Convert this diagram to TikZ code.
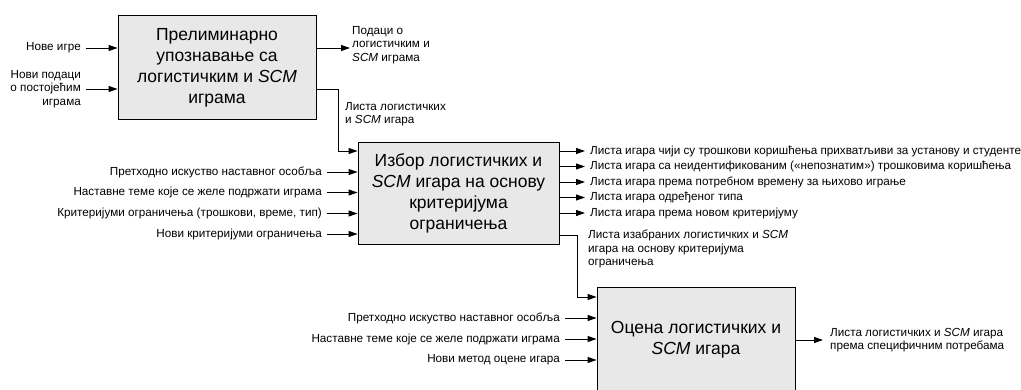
\documentclass[tikz,border=0pt]{standalone}
\usepackage{fontspec}
\setmainfont{Liberation Sans}
\usetikzlibrary{arrows.meta}
\newcommand{\scm}{\textit{SCM}}

\tikzset{
	procbox/.style={draw, fill=black!9, line width=0.9pt, align=center, inner sep=0pt,
		font=\fontsize{17.5}{21}\selectfont},
	lbl/.style={inner sep=0pt, font=\fontsize{11.7}{13.5}\selectfont},
	flow/.style={line width=0.9pt, -{Triangle[length=9pt,width=6pt]}},
}

\begin{document}
\begin{tikzpicture}[x=1pt, y=-1pt]
	\useasboundingbox (0,0) rectangle (1021,390);

	\node[procbox, minimum width=198pt, minimum height=104pt] (prelim) at (217,67.5)
		{Прелиминарно\\упознавање са\\логистичким и \scm\\играма};
	\node[procbox, minimum width=201pt, minimum height=102pt] (izbor) at (458.5,193)
		{Избор логистичких и\\\scm{} игара на основу\\критеријума\\ограничења};
	\node[procbox, minimum width=198pt, minimum height=106pt] (ocena) at (696,340)
		{Оцена логистичких и\\\scm{} игара};

	% prelim
	\node[lbl, anchor=east] (nove) at (81,48) {Нове игре};
	\node[lbl, anchor=east, align=right] (novip) at (81,89) {Нови подаци\\о постојећим\\играма};
	\node[lbl, anchor=north west, align=left] (podaci) at (352,26) {Подаци о\\логистичким и\\\scm{} играма};
	\node[lbl, anchor=west, align=left] (lista) at (345,114) {Листа логистичких\\и \scm{} игара};
	\coordinate (podacio) at (350,48);

	\draw[flow] ([xshift=5pt]nove.east) -- (nove.east -| prelim.west);
	\draw[flow] ([xshift=5pt]novip.east) -- (novip.east -| prelim.west);
	\draw[flow] (prelim.east |- podacio) -- (podacio);
	\draw[flow] (prelim.east |- 0,89) -- ++(22,0) |- (izbor.west |- 0,151);

	% izbor
	\node[lbl, anchor=east] (isk) at (322,172) {Претходно искуство наставног особља};
	\node[lbl, anchor=east] (teme) at (322,192.5) {Наставне теме које се желе подржати играма};
	\node[lbl, anchor=east] (krit) at (322,213.5) {Критеријуми ограничења (трошкови, време, тип)};
	\node[lbl, anchor=east] (novik) at (322,234) {Нови критеријуми ограничења};

	\node[lbl, anchor=west] (li1) at (590,151) {Листа игара чији су трошкови коришћења прихватљиви за установу и студенте};
	\node[lbl, anchor=west] (li2) at (590,166.5) {Листа игара са неидентификованим («непознатим») трошковима коришћења};
	\node[lbl, anchor=west] (li3) at (590,182) {Листа игара према потребном времену за њихово играње};
	\node[lbl, anchor=west] (li4) at (590,197.5) {Листа игара одређеног типа};
	\node[lbl, anchor=west] (li5) at (590,213) {Листа игара према новом критеријуму};
	\node[lbl, anchor=north west, align=left] (izab) at (588,230)
		{Листа изабраних логистичких и \scm\\игара на основу критеријума\\ограничења};

	\draw[flow] ([xshift=5pt]isk.east) -- (isk.east -| izbor.west);
	\draw[flow] ([xshift=5pt]teme.east) -- (teme.east -| izbor.west);
	\draw[flow] ([xshift=5pt]krit.east) -- (krit.east -| izbor.west);
	\draw[flow] ([xshift=5pt]novik.east) -- (novik.east -| izbor.west);
	\draw[flow] (izbor.east |- li1.west) -- ([xshift=-5pt]li1.west);
	\draw[flow] (izbor.east |- li2.west) -- ([xshift=-5pt]li2.west);
	\draw[flow] (izbor.east |- li3.west) -- ([xshift=-5pt]li3.west);
	\draw[flow] (izbor.east |- li4.west) -- ([xshift=-5pt]li4.west);
	\draw[flow] (izbor.east |- li5.west) -- ([xshift=-5pt]li5.west);
	\draw[flow] (izbor.east |- 0,235) -- ++(18,0) |- (ocena.west |- 0,297);

	% ocena
	\node[lbl, anchor=east] (isk2) at (560,318) {Претходно искуство наставног особља};
	\node[lbl, anchor=east] (teme2) at (560,339) {Наставне теме које се желе подржати играма};
	\node[lbl, anchor=east] (metod) at (560,360) {Нови метод оцене игара};
	\node[lbl, anchor=west, align=left] (konac) at (830,340)
		{Листа логистичких и \scm{} игара\\према специфичним потребама};

	\draw[flow] ([xshift=5pt]isk2.east) -- (isk2.east -| ocena.west);
	\draw[flow] ([xshift=5pt]teme2.east) -- (teme2.east -| ocena.west);
	\draw[flow] ([xshift=5pt]metod.east) -- (metod.east -| ocena.west);
	\draw[flow] (ocena.east) -- ([xshift=-7pt]konac.west);
\end{tikzpicture}
\end{document}
